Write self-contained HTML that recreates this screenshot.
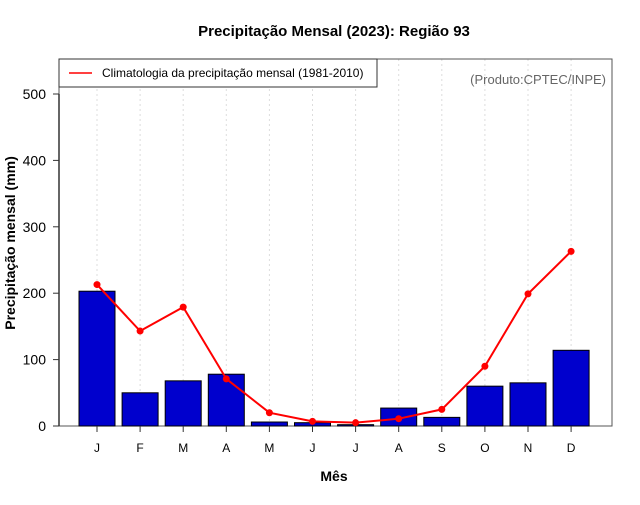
<!DOCTYPE html>
<html><head><meta charset="utf-8"><style>
body{margin:0;background:#fff;}
svg text{font-family:"Liberation Sans",sans-serif;}
</style></head><body>
<svg width="640" height="500">
<text x="334" y="36" font-size="15" font-weight="bold" text-anchor="middle">Precipitação Mensal (2023): Região 93</text>
<g id="grid"></g>
<rect x="59" y="59" width="553" height="367" fill="none" stroke="#555" stroke-width="1"/>
<g id="bars"></g>
<g id="line"></g>
<g id="axes"></g>
<g>
<rect x="59" y="59" width="318" height="28" fill="#fff" stroke="#333"/>
<line x1="69" y1="73" x2="92" y2="73" stroke="red" stroke-width="1.5"/>
<text x="102" y="77" font-size="12">Climatologia da precipitação mensal (1981-2010)</text>
</g>
<text x="606" y="84" font-size="13" fill="#666" text-anchor="end">(Produto:CPTEC/INPE)</text>
<text x="334" y="481" font-size="14" font-weight="bold" text-anchor="middle">Mês</text>
<text transform="translate(15,243) rotate(-90)" font-size="14" font-weight="bold" text-anchor="middle">Precipitação mensal (mm)</text>
</svg>
<script>
const months = ["J","F","M","A","M","J","J","A","S","O","N","D"];
const observed = [203,50,68,78,6,5,2,27,13,60,65,114];
const climatology = [213,143,179,71,20,7,5,11,25,90,199,263];
const yTicks = [0,100,200,300,400,500];
const NS="http://www.w3.org/2000/svg";
const x = i => 97 + i*43.1;
const y = v => 426 - v*0.664;
function mk(tag, attrs, parent){const e=document.createElementNS(NS,tag);for(const k in attrs)e.setAttribute(k,attrs[k]);document.getElementById(parent).appendChild(e);return e;}
months.forEach((m,i)=>{
  const g=mk('line',{x1:x(i),x2:x(i),y1:59,y2:426,stroke:'#ddd','stroke-dasharray':'2,3'},'grid');
  
  
  const b=mk('rect',{x:x(i)-18,y:y(observed[i]),width:36,height:426-y(observed[i]),fill:'#0000cd',stroke:'#000','stroke-width':1},'bars');
  
  
  const t=mk('line',{x1:x(i),x2:x(i),y1:426,y2:432,stroke:'#333'},'axes');
  
  
  const l=mk('text',{x:x(i),y:452,'font-size':12,'text-anchor':'middle'},'axes');
  l.textContent=m;
  
  
});
const p=mk('polyline',{points:climatology.map((v,i)=>x(i)+','+y(v)).join(' '),fill:'none',stroke:'red','stroke-width':2},'line');


climatology.forEach((v,i)=>{
  const c=mk('circle',{cx:x(i),cy:y(v),r:3.5,fill:'red'},'line');
  
  
});
const ax=mk('line',{x1:59,x2:59,y1:y(0),y2:y(500),stroke:'#333','stroke-width':1.5},'axes');


yTicks.forEach(v=>{
  const t=mk('line',{x1:53,x2:59,y1:y(v),y2:y(v),stroke:'#333'},'axes');
  
  
  const l=mk('text',{x:46,y:y(v)+5,'font-size':14,'text-anchor':'end'},'axes');
  l.textContent=v;
  
  
});
</script>
</body></html>
